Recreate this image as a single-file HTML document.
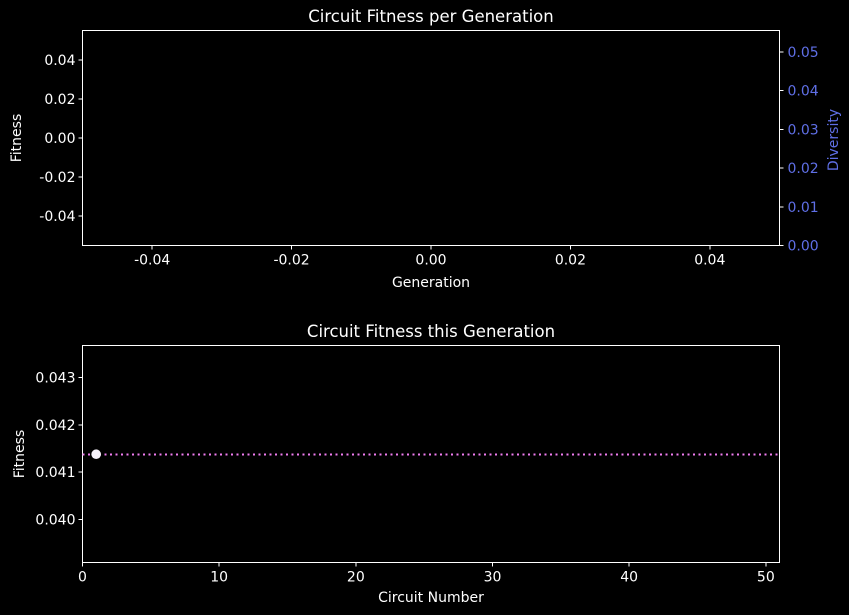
<!DOCTYPE html>
<html><head><meta charset="utf-8"><style>
body{margin:0;background:#000;}
svg{display:block;font-family:"DejaVu Sans","Liberation Sans",sans-serif;}
</style></head><body>
<svg id="c" width="849" height="615" xmlns="http://www.w3.org/2000/svg">
<rect width="849" height="615" fill="#000"/>
</svg>
<script>
const topXTicks=[-0.04,-0.02,0.00,0.02,0.04];
const topYTicks=[-0.04,-0.02,0.00,0.02,0.04];
const diversityTicks=[0.00,0.01,0.02,0.03,0.04,0.05];
const botXTicks=[0,10,20,30,40,50];
const botYTicks=[0.040,0.041,0.042,0.043];
const circuitNumbers=[1];
const circuitFitness=[0.04138];
const meanFitness=0.04138;

const svg=document.getElementById('c');
const NS='http://www.w3.org/2000/svg';
function mk(tag,attrs,txt){const e=document.createElementNS(NS,tag);for(const k in attrs)e.setAttribute(k,attrs[k]);if(txt!==undefined)e.textContent=txt;svg.appendChild(e);return e;}
function lin(d0,d1,r0,r1){return v=>r0+(v-d0)/(d1-d0)*(r1-r0);}
const W='#ffffff',B='#5f6fe6',FS=14;

const T={l:82.5,r:779.5,t:30.5,b:245.5};
const tx=lin(-0.05,0.05,T.l,T.r), ty=lin(-0.055,0.055,T.b,T.t), td=lin(0,0.0555,T.b,T.t);
const Bo={l:82.5,r:779.5,t:345.5,b:562.5};
const bx=lin(0,51,Bo.l,Bo.r), by=lin(0.03909,0.04368,Bo.b,Bo.t);

function frame(a,name){const e=mk('rect',{x:a.l,y:a.t,width:a.r-a.l,height:a.b-a.t,fill:'none',stroke:W,'stroke-width':1,'shape-rendering':'crispEdges'});}
frame(T,'top-plot-frame');frame(Bo,'bottom-plot-frame');

topXTicks.forEach(v=>{const x=tx(v);
 const l=mk('line',{x1:x,x2:x,y1:T.b,y2:T.b+4,stroke:W,'shape-rendering':'crispEdges'});
 const t=mk('text',{x:x,y:T.b+19,fill:W,'font-size':FS,'text-anchor':'middle'},v.toFixed(2));});
topYTicks.forEach(v=>{const y=ty(v);
 const l=mk('line',{x1:T.l-4,x2:T.l,y1:y,y2:y,stroke:W,'shape-rendering':'crispEdges'});
 const t=mk('text',{x:T.l-7,y:y+5,fill:W,'font-size':FS,'text-anchor':'end'},v.toFixed(2));});
diversityTicks.forEach(v=>{const y=td(v);
 const l=mk('line',{x1:T.r,x2:T.r+4,y1:y,y2:y,stroke:W,'shape-rendering':'crispEdges'});
 const t=mk('text',{x:T.r+8,y:y+5,fill:B,'font-size':FS},v.toFixed(2));});
botXTicks.forEach(v=>{const x=bx(v);
 const l=mk('line',{x1:x,x2:x,y1:Bo.b,y2:Bo.b+4,stroke:W,'shape-rendering':'crispEdges'});
 const t=mk('text',{x:x,y:Bo.b+19,fill:W,'font-size':FS,'text-anchor':'middle'},String(v));});
botYTicks.forEach(v=>{const y=by(v);
 const l=mk('line',{x1:Bo.l-4,x2:Bo.l,y1:y,y2:y,stroke:W,'shape-rendering':'crispEdges'});
 const t=mk('text',{x:Bo.l-7,y:y+5,fill:W,'font-size':FS,'text-anchor':'end'},v.toFixed(3));});

let e;
e=mk('text',{x:431,y:22,fill:W,'font-size':16.5,'text-anchor':'middle'},'Circuit Fitness per Generation');
e=mk('text',{x:431,y:287,fill:W,'font-size':FS,'text-anchor':'middle'},'Generation');
e=mk('text',{x:21,y:138,fill:W,'font-size':FS,'text-anchor':'middle',transform:'rotate(-90 21 138)'},'Fitness');
e=mk('text',{x:838,y:140,fill:B,'font-size':FS,'text-anchor':'middle',transform:'rotate(-90 838 140)'},'Diversity');
e=mk('text',{x:431,y:337,fill:W,'font-size':16.5,'text-anchor':'middle'},'Circuit Fitness this Generation');
e=mk('text',{x:431,y:602,fill:W,'font-size':FS,'text-anchor':'middle'},'Circuit Number');
e=mk('text',{x:24,y:454,fill:W,'font-size':FS,'text-anchor':'middle',transform:'rotate(-90 24 454)'},'Fitness');

e=mk('line',{x1:Bo.l,x2:Bo.r,y1:Math.round(by(meanFitness))+0.5,y2:Math.round(by(meanFitness))+0.5,stroke:'#f07cf0','stroke-width':2,'stroke-dasharray':'2 3.5','shape-rendering':'crispEdges'});


circuitNumbers.forEach((n,i)=>{
 const p=mk('circle',{cx:bx(n),cy:by(circuitFitness[i]),r:4.8,fill:'#f6f2fa'});
 
 
});
</script>
</body></html>
